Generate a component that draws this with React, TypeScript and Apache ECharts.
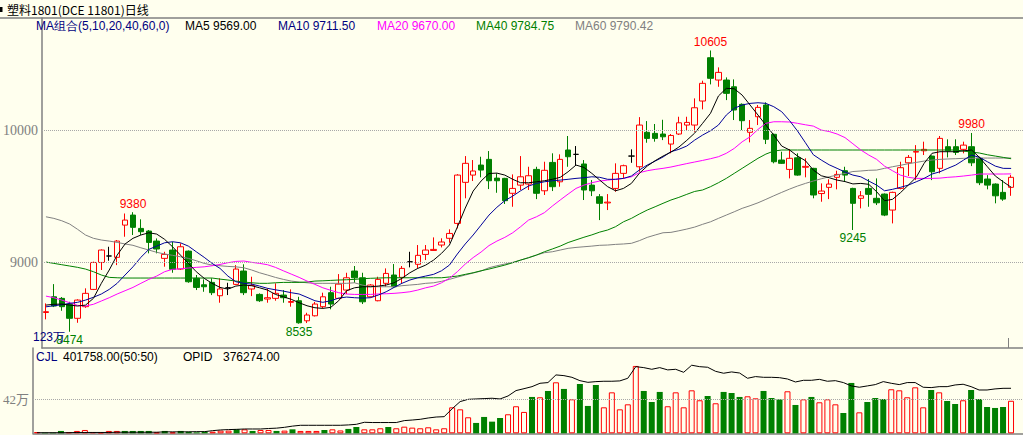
import React, { useEffect, useRef } from "react";
import * as echarts from "echarts";

const BG = "#FFFFEE";

const opens = [8620,8739,8727,8682,8576,8664,8795,8999,9048,9038,9282,9358,9257,9237,9161,9030,9093,8949,9085,8879,8830,8848,8747,8807,8833,8934,8798,8757,8722,8727,8752,8697,8709,8557,8595,8664,8770,8727,8790,8934,8883,8739,8709,8841,8904,8886,9004,8985,9060,9090,9131,9182,9295,9606,9661,9737,9780,9638,9636,9523,9585,9593,9704,9542,9757,9610,9851,9818,9745,9585,9497,9450,9560,9674,9805,9724,9985,9977,9972,9896,9972,10040,10040,10222,10550,10381,10381,10330,10197,9985,10103,10192,9970,9775,9704,9792,9720,9712,9521,9568,9644,9694,9560,9485,9560,9485,9517,9396,9560,9754,9835,9845,9805,9712,9876,9876,9856,9876,9788,9631,9593,9530,9568];
const highs = [8689,8835,8737,8701,8720,8803,9005,9098,9118,9169,9370,9380,9326,9245,9181,9080,9156,9144,9090,8904,8871,8879,8879,8845,8979,8985,8891,8765,8803,8841,8790,8795,8739,8618,8700,8770,8815,8911,8921,8972,8921,8835,8891,8954,8987,8972,9080,9131,9131,9189,9182,9250,9668,9805,9775,9800,9843,9674,9640,9666,9805,9724,9724,9762,9826,9818,9957,9881,9775,9623,9517,9517,9750,9740,9856,10100,10070,10048,10080,9972,10103,10103,10242,10376,10605,10477,10401,10386,10204,10078,10192,10212,9975,9838,9858,9826,9788,9716,9598,9629,9694,9724,9565,9540,9631,9636,9522,9535,9762,9813,9888,9914,9810,9957,9932,9932,9914,9980,9800,9661,9598,9623,9661];
const lows = [8568,8661,8633,8474,8542,8655,8790,8942,9012,8979,9194,9207,9207,9068,9068,8967,8921,8942,8845,8790,8777,8752,8694,8752,8828,8752,8744,8700,8694,8709,8694,8664,8535,8540,8590,8651,8644,8722,8760,8845,8684,8734,8705,8815,8810,8841,8962,8954,9017,9088,9113,9148,9257,9485,9616,9644,9555,9527,9442,9421,9548,9548,9479,9510,9540,9573,9724,9737,9472,9502,9320,9396,9535,9636,9754,9686,9906,9914,9926,9826,9965,10002,9989,10159,10348,10330,10229,10078,10002,9909,10040,9896,9750,9745,9636,9656,9644,9485,9459,9479,9553,9610,9245,9409,9421,9434,9350,9295,9553,9654,9623,9813,9623,9674,9795,9813,9826,9729,9585,9553,9447,9466,9504];
const closes = [8626,8669,8664,8576,8714,8765,8999,9093,9048,9161,9320,9265,9232,9151,9101,9060,8947,9118,8853,8810,8815,8770,8798,8807,8949,8770,8824,8709,8732,8765,8732,8703,8542,8601,8684,8739,8684,8835,8883,8883,8701,8828,8871,8916,8815,8954,9004,9053,9093,9098,9154,9219,9661,9750,9692,9699,9618,9618,9467,9560,9648,9656,9523,9697,9573,9780,9800,9818,9548,9542,9447,9456,9674,9732,9805,10040,9939,9939,9951,9961,10057,10060,10171,10356,10394,10439,10280,10154,10073,10015,10174,9932,9762,9750,9788,9661,9727,9510,9540,9593,9666,9661,9447,9504,9515,9451,9358,9530,9717,9795,9840,9856,9686,9939,9845,9833,9888,9754,9603,9585,9504,9479,9644];

const volumes = [16000,8000,8000,29000,16000,29000,41000,16000,12000,29000,29000,29000,29000,29000,29000,12000,29000,12000,29000,20000,12000,20000,20000,33000,33000,49000,49000,29000,41000,41000,29000,33000,49000,29000,29000,29000,41000,49000,35000,54000,78000,49000,49000,62000,78000,62000,82000,70000,62000,74000,49000,62000,321000,296000,198000,128000,202000,144000,189000,235000,334000,264000,449000,445000,523000,630000,548000,420000,609000,338000,597000,321000,506000,296000,358000,832000,523000,387000,511000,334000,506000,321000,531000,408000,461000,371000,511000,498000,449000,457000,432000,523000,436000,420000,519000,350000,420000,449000,383000,420000,358000,251000,622000,259000,387000,436000,424000,544000,531000,445000,568000,321000,535000,506000,399000,362000,408000,535000,424000,325000,313000,325000,401758];
const openInterest = [5000,5000,5000,5000,5000,7000,7000,7000,7000,7000,9000,9000,9000,9000,9000,9000,12000,12000,12000,12000,14000,14000,22000,28000,31000,33000,36000,36000,36000,40000,43000,50000,60000,67000,67000,67000,67000,67000,67000,70000,75000,92000,90000,90000,90000,90000,106000,111000,117000,128000,136000,139000,205000,265000,284000,287000,290000,293000,287000,312000,357000,373000,390000,418000,424000,488000,482000,468000,440000,426000,432000,435000,435000,438000,460000,557000,549000,535000,549000,530000,535000,510000,569000,557000,552000,518000,502000,513000,504000,460000,474000,468000,468000,465000,454000,429000,443000,443000,451000,435000,440000,424000,396000,385000,396000,407000,432000,418000,407000,424000,424000,385000,382000,390000,390000,404000,410000,390000,362000,362000,371000,376000,376274];

const ma5 = [8676,8682,8684,8676,8669,8676,8727,8841,8942,9055,9139,9182,9207,9224,9214,9174,9118,9055,8992,8929,8879,8841,8810,8797,8820,8828,8823,8807,8790,8757,8739,8720,8694,8671,8656,8651,8659,8709,8785,8807,8815,8815,8820,8828,8845,8879,8921,8954,8979,9017,9068,9131,9267,9411,9540,9616,9673,9676,9661,9629,9603,9603,9610,9618,9629,9644,9686,9737,9719,9674,9623,9573,9542,9560,9598,9674,9729,9770,9805,9835,9873,9924,9979,10053,10129,10260,10318,10315,10267,10192,10116,10040,9964,9881,9851,9805,9770,9699,9656,9641,9623,9612,9594,9598,9591,9535,9467,9477,9527,9585,9644,9750,9826,9838,9838,9838,9845,9851,9795,9724,9654,9610,9569];
const ma10 = [8663,8671,8679,8689,8697,8714,8735,8760,8795,8841,8904,8966,9038,9098,9123,9148,9156,9148,9123,9080,9038,8992,8954,8896,8853,8841,8835,8820,8803,8792,8782,8770,8760,8735,8709,8697,8709,8729,8737,8732,8729,8732,8752,8777,8810,8841,8866,8883,8896,8909,8936,8979,9063,9139,9207,9282,9358,9417,9467,9502,9542,9578,9598,9610,9618,9623,9629,9636,9641,9648,9644,9629,9629,9636,9654,9699,9737,9767,9798,9838,9856,9881,9926,9964,9997,10040,10116,10167,10192,10204,10209,10204,10179,10141,10073,9995,9906,9815,9775,9739,9712,9684,9661,9648,9616,9585,9542,9553,9568,9585,9610,9636,9669,9686,9712,9737,9775,9813,9795,9762,9729,9712,9711.5];
const ma20 = [8744,8732,8714,8694,8674,8669,8682,8707,8732,8760,8785,8810,8841,8871,8896,8929,8947,8951,8957,8962,8966,8974,8984,8997,9007,9010,9000,8992,8982,8962,8936,8911,8886,8858,8833,8807,8788,8770,8760,8757,8757,8757,8760,8762,8765,8770,8777,8790,8807,8820,8845,8879,8929,8987,9036,9078,9127,9161,9189,9224,9270,9320,9345,9376,9426,9472,9517,9560,9585,9603,9616,9623,9629,9636,9648,9679,9694,9704,9712,9722,9735,9748,9760,9772,9785,9800,9826,9863,9913,9951,10007,10053,10065,10065,10063,10053,10042,10032,10002,9991,9972,9945,9898,9851,9813,9780,9729,9694,9661,9644,9636,9636,9636,9638,9644,9648,9654,9661,9669,9669,9669,9669,9670];
const ma40 = [9002,8992,8982,8972,8962,8949,8929,8904,8886,8883,8881,8881,8881,8881,8881,8881,8881,8881,8881,8881,8881,8881,8873,8866,8858,8851,8845,8841,8841,8845,8848,8848,8848,8851,8858,8860,8863,8866,8868,8871,8876,8879,8881,8883,8883,8883,8883,8883,8883,8883,8883,8889,8896,8909,8921,8936,8949,8964,8979,8997,9017,9035,9055,9080,9101,9123,9150,9170,9190,9208,9229,9245,9270,9307,9333,9366,9396,9421,9447,9472,9492,9515,9537,9548,9573,9603,9636,9674,9712,9750,9788,9820,9843,9851,9851,9851,9851,9851,9851,9851,9851,9851,9851,9851,9851,9851,9851,9851,9851,9851,9851,9851,9851,9851,9851,9851,9843,9835,9828,9815,9805,9795,9784.75];
const ma60 = [9345,9333,9315,9290,9250,9207,9182,9169,9161,9151,9139,9129,9110,9093,9076,9063,9053,9042,9030,9012,8992,8979,8974,8969,8966,8959,8942,8921,8904,8886,8871,8858,8851,8845,8841,8841,8841,8841,8841,8845,8828,8815,8815,8815,8815,8823,8828,8833,8841,8845,8856,8871,8888,8904,8919,8934,8959,8974,8987,9000,9017,9035,9055,9073,9080,9093,9106,9113,9118,9123,9129,9131,9136,9139,9144,9164,9189,9207,9224,9227,9239,9252,9267,9288,9307,9333,9358,9383,9409,9429,9451,9477,9504,9530,9555,9578,9598,9616,9633,9648,9661,9674,9688,9692,9697,9699,9712,9724,9735,9747,9757,9767,9775,9780,9783,9785,9788,9788,9790,9790,9790,9790,9790.42];

const priceTicks = [9000, 10000];
const volumeTicks = [420000];
const highMarks = [[11, 9380], [84, 10605], [117, 9980]];
const lowMarks = [[3, 8474], [32, 8535], [102, 9245]];

const categories = closes.map((_, i) => String(i + 1)).concat([""]);
const RED = "#FF0000";
const GREEN = "#008000";
const GRAY = "#808080";
const SANS = "'Liberation Sans', Arial, sans-serif";
const SERIF = "'Liberation Serif', 'Noto Sans CJK SC', serif";

function buildOption() {
  const candleData = closes.map((c, i) => [opens[i], c, lows[i], highs[i]]);
  const volData = volumes.map((v, i) => ({
    value: v,
    itemStyle:
      closes[i] >= opens[i]
        ? { color: BG, borderColor: RED, borderWidth: 1 }
        : { color: GREEN, borderColor: GREEN, borderWidth: 0 },
  }));
  const maLine = (name: string, data: number[], color: string) => ({
    name,
    type: "line",
    xAxisIndex: 0,
    yAxisIndex: 0,
    data,
    symbol: "none",
    smooth: false,
    lineStyle: { color, width: 1 },
    silent: true,
    z: 3,
  });
  const fmt = (a: number[]) => a[a.length - 1].toFixed(2);
  const legend = [
    { t: "MA组合(5,10,20,40,60,0)", x: 36, c: "#000080" },
    { t: "MA5 " + fmt(ma5), x: 185, c: "#000000" },
    { t: "MA10 " + fmt(ma10), x: 278, c: "#000080" },
    { t: "MA20 " + fmt(ma20), x: 377, c: "#FF00FF" },
    { t: "MA40 " + fmt(ma40), x: 476, c: GREEN },
    { t: "MA60 " + fmt(ma60), x: 575, c: GRAY },
  ];
  const lastVol = volumes[volumes.length - 1].toFixed(2);
  const lastOI = openInterest[openInterest.length - 1].toFixed(2);
  const txt = (text: string, x: number, y: number, fill: string, font = SANS, size = 12) => ({
    type: "text",
    x,
    y,
    silent: true,
    style: { text, fill, font: `${size}px ${font}`, textVerticalAlign: "middle", textAlign: "left" },
    z: 10,
  });
  return {
    animation: false,
    backgroundColor: BG,
    grid: [
      { left: 32.5, top: 18, width: 991.5, height: 330 },
      { left: 32.5, top: 348, width: 991.5, height: 85.3 },
    ],
    xAxis: [
      {
        type: "category", gridIndex: 0, data: categories, boundaryGap: true,
        axisLine: { show: true, onZero: false, lineStyle: { color: GRAY, width: 1.5 } },
        axisTick: { show: false }, axisLabel: { show: false }, splitLine: { show: false },
      },
      {
        type: "category", gridIndex: 1, data: categories, boundaryGap: true,
        axisLine: { show: true, onZero: false, lineStyle: { color: GRAY, width: 1.5 } },
        axisTick: { show: false }, axisLabel: { show: false }, splitLine: { show: false },
      },
    ],
    yAxis: [
      {
        type: "value", gridIndex: 0, min: 8351, max: 10851, position: "left",
        axisLine: { show: true, lineStyle: { color: GRAY, width: 1.5 } },
        axisTick: { show: false }, splitLine: { show: false },
        axisLabel: {
          customValues: priceTicks, formatter: (v: number) => String(v),
          color: GRAY, fontFamily: SERIF, fontSize: 14, margin: 4,
        },
      },
      {
        type: "value", gridIndex: 1, min: 0, max: 1053700, position: "left",
        axisLine: { show: true, lineStyle: { color: GRAY, width: 1.5 } },
        axisTick: { show: false }, splitLine: { show: false },
        axisLabel: {
          customValues: volumeTicks, formatter: (v: number) => String(v / 10000) + "万",
          color: GRAY, fontFamily: SERIF, fontSize: 13, margin: 4,
        },
      },
      {
        type: "value", gridIndex: 1, min: 0, max: 713000, show: false,
        axisLine: { show: false }, splitLine: { show: false }, axisLabel: { show: false },
      },
    ],
    series: [
      {
        type: "candlestick",
        xAxisIndex: 0, yAxisIndex: 0,
        data: candleData,
        barWidth: 6,
        silent: true,
        itemStyle: {
          color: BG, color0: GREEN, borderColor: RED, borderColor0: GREEN,
          borderColorDoji: "#000000", borderWidth: 1,
        },
        markLine: {
          silent: true, symbol: ["none", "none"], animation: false,
          label: { show: false },
          lineStyle: { type: "dotted", color: "#A8A8A8", width: 1 },
          data: priceTicks.map((p) => ({ yAxis: p })),
        },
        markPoint: {
          silent: true, symbol: "circle", symbolSize: 1, animation: false,
          itemStyle: { color: "rgba(0,0,0,0)" },
          data: [
            ...highMarks.map(([i, v]) => ({
              coord: [i, v], value: v,
              label: { show: true, position: "top", distance: 2, color: RED, fontFamily: SANS, fontSize: 12, formatter: String(v) },
            })),
            ...lowMarks.map(([i, v]) => ({
              coord: [i, v], value: v,
              label: { show: true, position: "bottom", distance: 2, color: GREEN, fontFamily: SANS, fontSize: 12, formatter: String(v) },
            })),
          ],
        },
        z: 2,
      },
      maLine("MA60", ma60, GRAY),
      maLine("MA40", ma40, GREEN),
      maLine("MA20", ma20, "#FF00FF"),
      maLine("MA10", ma10, "#000099"),
      maLine("MA5", ma5, "#000000"),
      {
        type: "bar",
        xAxisIndex: 1, yAxisIndex: 1,
        data: volData,
        barWidth: 6,
        silent: true,
        markLine: {
          silent: true, symbol: ["none", "none"], animation: false,
          label: { show: false },
          lineStyle: { type: "dotted", color: "#A8A8A8", width: 1 },
          data: volumeTicks.map((p) => ({ yAxis: p })),
        },
      },
      {
        type: "line",
        xAxisIndex: 1, yAxisIndex: 2,
        data: openInterest,
        symbol: "none",
        silent: true,
        lineStyle: { color: "#000000", width: 1 },
        z: 3,
      },
    ],
    graphic: [
      { type: "line", silent: true, shape: { x1: 0, y1: 18, x2: 1023, y2: 18 }, style: { stroke: GRAY, lineWidth: 1.5 } },
      { type: "rect", silent: true, shape: { x: 0, y: 7, width: 2.5, height: 5 }, style: { fill: "#000000" } },
      txt("塑料1801(DCE 11801)日线", 7, 9.5, "#000000", "'Noto Sans CJK SC', sans-serif", 12),
      ...legend.map((l) => txt(l.t, l.x, 26, l.c)),
      txt("CJL", 36, 356.5, "#000080"),
      txt(lastVol + "(50:50)", 63, 356.5, "#000000"),
      txt("OPID", 183, 356.5, "#000000"),
      txt(lastOI, 223, 356.5, "#000000"),
      txt("123万", 33, 337, "#000080"),
      { type: "line", silent: true, shape: { x1: 1008.5, y1: 338, x2: 1008.5, y2: 348 }, style: { stroke: GRAY, lineWidth: 1 } },
      { type: "line", silent: true, shape: { x1: 1008.5, y1: 423, x2: 1008.5, y2: 433 }, style: { stroke: GRAY, lineWidth: 1 } },
    ],
  };
}

export default function App() {
  const ref = useRef<HTMLDivElement>(null);
  useEffect(() => {
    if (!ref.current) return;
    const chart = echarts.init(ref.current, null, { renderer: "svg" });
    chart.setOption(buildOption() as any);
    return () => chart.dispose();
  }, []);
  return (
    <div
      ref={ref}
      style={{ position: "fixed", left: 0, top: 0, width: 1023, height: 435, background: BG }}
    />
  );
}
